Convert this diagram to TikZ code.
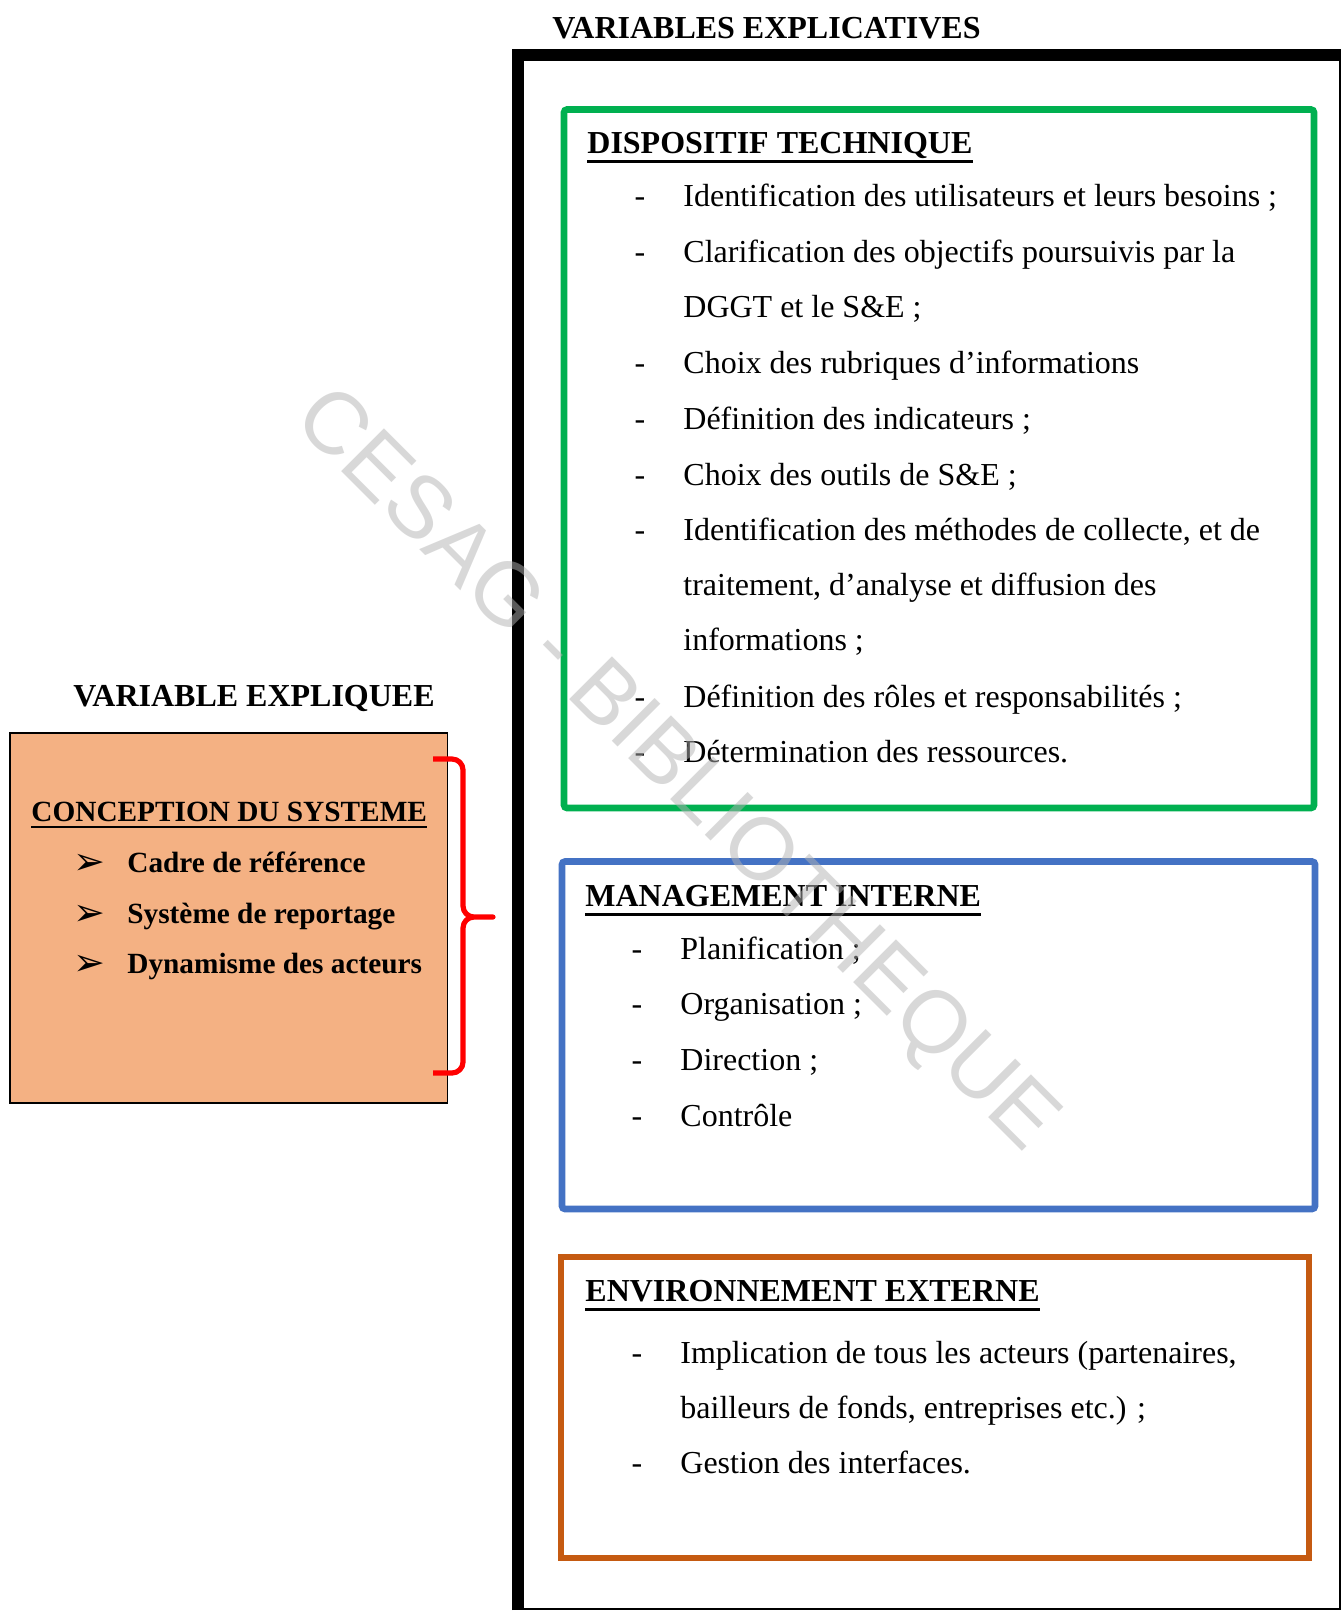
\documentclass[tikz,border=0pt]{standalone}
\usepackage{fontspec}
\setmainfont{Liberation Serif}
\newfontfamily\wmfont{Liberation Sans}
\newfontfamily\dingfont{DejaVu Sans}
\definecolor{dgreen}{HTML}{00B050}
\definecolor{dblue}{HTML}{4472C4}
\definecolor{dorange}{HTML}{C55A11}
\definecolor{dfill}{HTML}{F4B183}
\definecolor{dred}{HTML}{FF0000}
\tikzset{
  txt/.style={anchor=base west, inner sep=0pt, font=\fontsize{16}{19}\selectfont},
  hd/.style={anchor=base west, inner sep=0pt, font=\fontsize{16}{19}\selectfont\bfseries},
  lft/.style={anchor=base west, inner sep=0pt, font=\fontsize{14.65}{17}\selectfont\bfseries},
  dashmark/.style={anchor=base, inner sep=0pt, font=\fontsize{16}{19}\selectfont},
  arrowmark/.style={anchor=base, inner sep=0pt, font=\dingfont\fontsize{19}{22}\selectfont},
  ulr/.style={line width=1.5pt},
  ull/.style={line width=1.1pt},
  framebox/.style={line width=3.3pt, rounded corners=1.5pt}
}
\begin{document}
\begin{tikzpicture}[x=0.5pt,y=-0.5pt]
\useasboundingbox (0,0) rectangle (1341,1612);
% titles
\node[hd] (t1) at (552,38) {VARIABLES EXPLICATIVES};
\node[hd] (t2) at (73,706) {VARIABLE EXPLIQUEE};
% black frame
\draw[line width=1pt] (518,54.5) rectangle (1339.5,1609);
\draw[line width=6pt] (518,1610) -- (518,54.5) -- (1341,54.5);
% green box
\draw[framebox, dgreen] (564,109.5) rectangle (1314,808);
\node[hd] (h1) at (587,153) {DISPOSITIF TECHNIQUE};
\draw[ulr] ([yshift=-4pt]h1.base west) -- ([yshift=-4pt]h1.base east);
\foreach \y/\t [count=\i] in {
 206/{Identification des utilisateurs et leurs besoins ;},
 262/{Clarification des objectifs poursuivis par la},
 373/{Choix des rubriques d’informations},
 429/{Définition des indicateurs ;},
 485/{Choix des outils de S\&E ;},
 540/{Identification des méthodes de collecte, et de},
 707/{Définition des rôles et responsabilités ;},
 762/{Détermination des ressources.}} {
  \node[dashmark] (gd\i) at (640,\y) {-};
  \node[txt] (gt\i) at (683,\y) {\t};
}
\node[txt] (gc1) at (683,317) {DGGT et le S\&E ;};
\node[txt] (gc2) at (683,595) {traitement, d’analyse et diffusion des};
\node[txt] (gc3) at (683,650) {informations ;};
% blue box
\draw[framebox, dblue] (562,861.5) rectangle (1315,1209);
\node[hd] (h2) at (585,906) {MANAGEMENT INTERNE};
\draw[ulr] ([yshift=-4pt]h2.base west) -- ([yshift=-4pt]h2.base east);
\foreach \y/\t [count=\i] in {959/{Planification ;},1014/{Organisation ;},1070/{Direction ;},1126/{Contrôle}} {
  \node[dashmark] (bd\i) at (637,\y) {-};
  \node[txt] (bt\i) at (680,\y) {\t};
}
% orange box
\draw[framebox, dorange, rounded corners=0pt] (561,1257) rectangle (1309,1558);
\node[hd] (h3) at (585,1301) {ENVIRONNEMENT EXTERNE};
\draw[ulr] ([yshift=-4pt]h3.base west) -- ([yshift=-4pt]h3.base east);
\node[dashmark] (od1) at (637,1363) {-};
\node[txt] (ot1) at (680,1363) {Implication de tous les acteurs (partenaires,};
\node[txt] (oc1) at (680,1418) {bailleurs de fonds, entreprises etc.) ;};
\node[dashmark] (od2) at (637,1473) {-};
\node[txt] (ot2) at (680,1473) {Gestion des interfaces.};
% left box
\draw[line width=0.9pt, fill=dfill] (10,733) rectangle (447.5,1103);
\node[lft] (h4) at (31,821) {CONCEPTION DU SYSTEME};
\draw[ull] ([yshift=-3pt]h4.base west) -- ([yshift=-3pt]h4.base east);
\foreach \y/\t [count=\i] in {872/{Cadre de référence},923/{Système de reportage},973/{Dynamisme des acteurs}} {
  \node[arrowmark] (la\i) at (89,\y+2) {➢};
  \node[lft] (lt\i) at (127,\y) {\t};
}
% red brace
\draw[dred, line width=2.6pt, line join=round]
  (433,759) -- (452,759) to[out=0,in=90] (463,770) -- (463,906)
  to[out=-90,in=180] (474,917) -- (493,917) -- (474,917)
  to[out=180,in=90] (463,928) -- (463,1062) to[out=-90,in=0] (452,1073) -- (433,1073);
% watermark
\node[inner sep=0pt, rotate=-45, text=black!30, opacity=0.5, font=\wmfont\fontsize{44}{50}\selectfont] (wm) at (674,772) {CESAG - BIBLIOTHEQUE};
\end{tikzpicture}
\end{document}
